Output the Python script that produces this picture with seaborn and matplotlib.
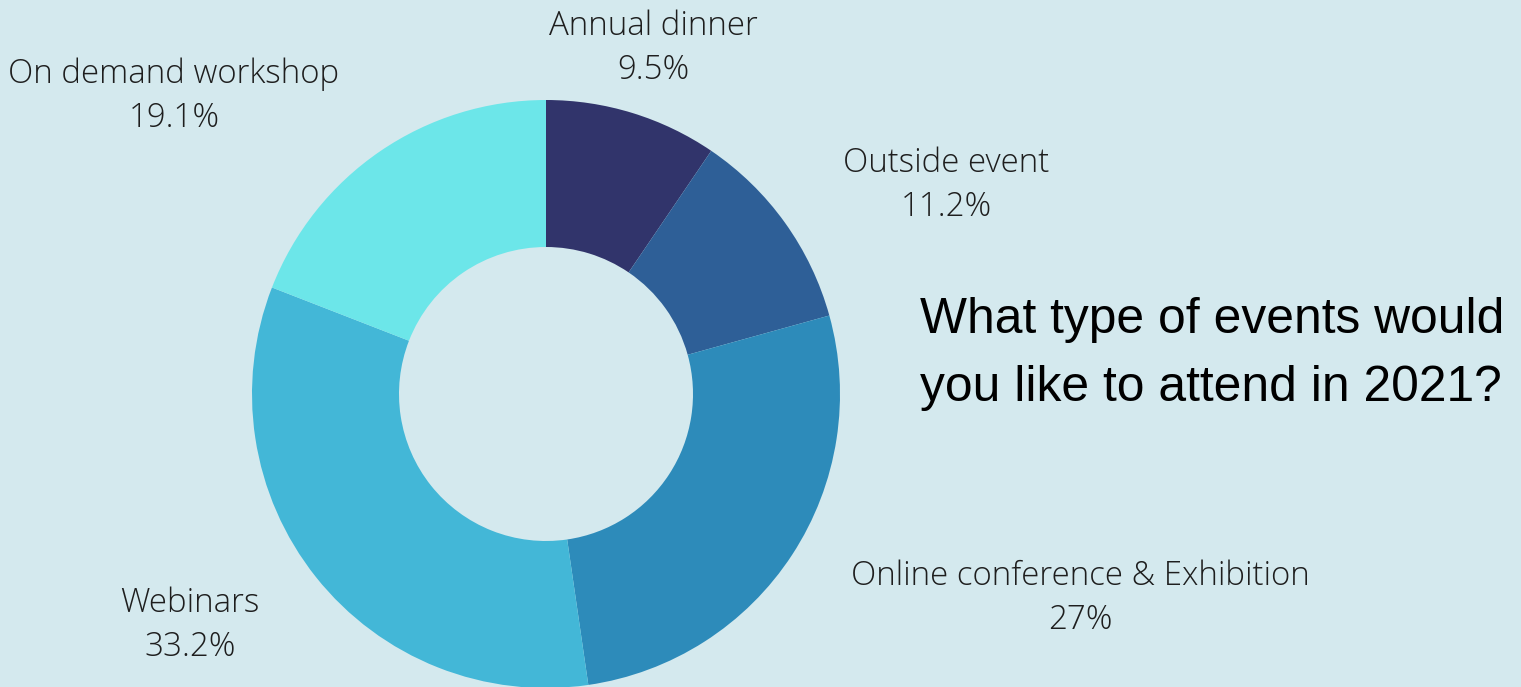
import matplotlib
matplotlib.use("Agg")
import matplotlib.pyplot as plt
import seaborn as sns

# data
categories = ["Annual dinner", "Outside event", "Online conference & Exhibition",
              "Webinars", "On demand workshop"]
shares = [9.5, 11.2, 27, 33.2, 19.1]
share_labels = ["9.5%", "11.2%", "27%", "33.2%", "19.1%"]
slice_colors = ["#31346b", "#2e5f97", "#2d8bba", "#43b7d7", "#6ce6e9"]

title = "What type of events would\nyou like to attend in 2021?"
bg = "#d4e9ee"

sns.set_theme(style="white")
plt.rcParams["font.family"] = ["Open Sans", "DejaVu Sans"]

fig = plt.figure(figsize=(15.21, 6.87), dpi=100)
fig.patch.set_facecolor(bg)
ax = fig.add_axes([0, 0, 1, 1])
ax.set_facecolor(bg)

# donut, axis units = pixels (y up)
ax.pie(shares, colors=slice_colors, startangle=90, counterclock=False,
       radius=294, center=(546, 293),
       wedgeprops=dict(width=147, linewidth=0))
ax.set_xlim(0, 1521)
ax.set_ylim(0, 687)
ax.set_aspect("auto")
ax.axis("off")

# label anchor points (centre of each two-line label)
label_pos = [(653, 639), (946, 502), (1080, 89), (190, 62), (174, 591)]
for name, pct, (lx, ly) in zip(categories, share_labels, label_pos):
    ax.text(lx, ly, f"{name}\n{pct}", ha="center", va="center",
            fontsize=23.8, fontweight="light", color="#1e1e1e",
            linespacing=1.4)

ax.text(920, 333, title, ha="left", va="center", fontsize=35.8,
        family=["Liberation Sans", "DejaVu Sans"], color="black",
        linespacing=1.62)

fig.savefig("out.png", dpi=100, facecolor=bg)
